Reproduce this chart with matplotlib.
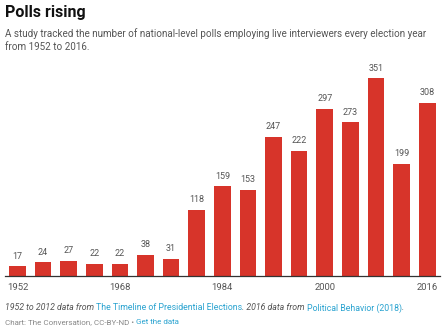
import matplotlib
matplotlib.use("Agg")
import matplotlib.pyplot as plt

plt.rcParams['font.family'] = ['Roboto', 'DejaVu Sans']

years = [1952, 1956, 1960, 1964, 1968, 1972, 1976, 1980, 1984,
         1988, 1992, 1996, 2000, 2004, 2008, 2012, 2016]
polls = [17, 24, 27, 22, 22, 38, 31, 118, 159,
         153, 247, 222, 297, 273, 351, 199, 308]
tick_years = [1952, 1968, 1984, 2000, 2016]

bar_color = '#d7342a'
grey = '#555555'
link = '#2aa3d0'

W, H = 444, 330
fig = plt.figure(figsize=(W / 100, H / 100), dpi=100)

ax = fig.add_axes([5 / W, 54 / H, 435 / W, 214 / H])
ax.bar(years, polls, width=2.6, color=bar_color)
for x, v in zip(years, polls):
    ax.annotate(str(v), (x, v), xytext=(0, 4), textcoords='offset points',
                ha='center', va='bottom', fontsize=6.5, color=grey)

ax.set_xlim(1950.05, 2018.0)
ax.set_ylim(0, 380)
ax.set_xticks(tick_years)
ax.set_xticklabels([str(y) for y in tick_years])
ax.tick_params(axis='x', length=0, pad=5, labelsize=6.8, labelcolor=grey)
ax.set_yticks([])
for s in ['left', 'right', 'top']:
    ax.spines[s].set_visible(False)
ax.spines['bottom'].set_color('#333333')
ax.spines['bottom'].set_linewidth(0.9)

fig.text(5 / W, 1 - 13 / H, 'Polls rising', fontsize=11.5, fontweight='bold',
         color='#111111', va='center')
fig.text(5 / W, 1 - 40 / H,
         'A study tracked the number of national-level polls employing live interviewers every election year\nfrom 1952 to 2016.',
         fontsize=7.1, color=grey, va='center', linespacing=1.3)


def run_text(y, pieces, size):
    # lay out differently styled pieces one after another on one line
    fig.canvas.draw()
    r = fig.canvas.get_renderer()
    x = 5 / W
    for txt, color, style in pieces:
        t = fig.text(x, 1 - y / H, txt, fontsize=size, color=color,
                     style=style, va='center')
        bb = t.get_window_extent(renderer=r)
        x = bb.x1 / W


run_text(308, [('1952 to 2012 data from ', grey, 'italic'),
               ('The Timeline of Presidential Elections', link, 'normal'),
               ('. 2016 data from ', grey, 'italic'),
               ('Political Behavior (2018)', link, 'normal'),
               ('.', grey, 'italic')], 6.3)
run_text(322, [('Chart: The Conversation, CC-BY-ND \u2022 ', '#888888', 'normal'),
               ('Get the data', link, 'normal')], 5.8)

fig.savefig('out.png', dpi=100)
